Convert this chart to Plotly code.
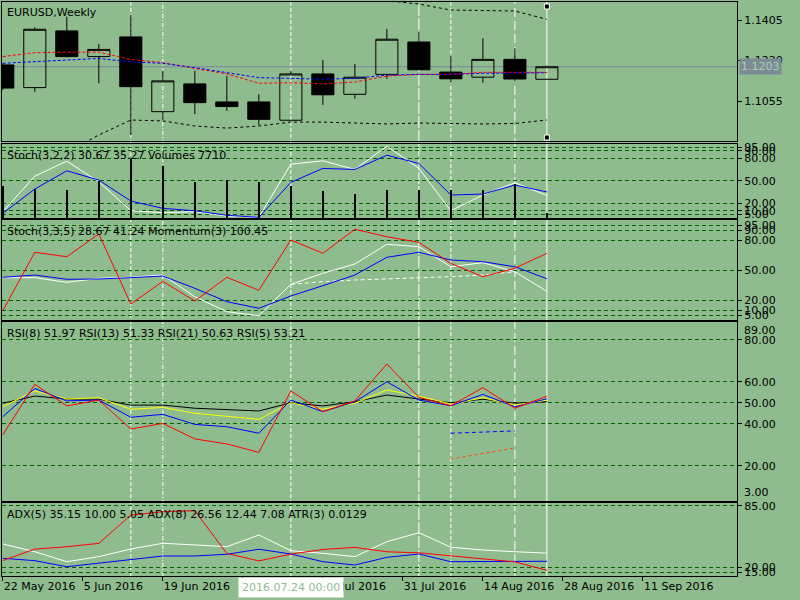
import plotly.graph_objects as go

# ---- data (weekly bars, 22 May 2016 .. 18 Sep 2016) ----
weeks = list(range(18))
tick_pos = [0, 2.5, 5, 7.5, 10, 12.5, 15, 17.5, 20]
tick_text = ["22 May 2016", "5 Jun 2016", "19 Jun 2016", "3 Jul 2016", "17 Jul 2016",
             "31 Jul 2016", "14 Aug 2016", "28 Aug 2016", "11 Sep 2016"]

open_ = [1.1211, 1.1113, 1.1358, 1.1247, 1.1332, 1.1009, 1.1129, 1.1051, 1.1051,
         1.0972, 1.1172, 1.1084, 1.1170, 1.1310, 1.1180, 1.1158, 1.1235, 1.1149]
high = [1.1218, 1.1374, 1.1419, 1.1301, 1.1427, 1.1186, 1.1186, 1.1163, 1.1084,
        1.1186, 1.1232, 1.1215, 1.1366, 1.1353, 1.1250, 1.1326, 1.1283, 1.1209]
low = [1.1103, 1.1095, 1.1244, 1.1132, 1.0908, 1.0973, 1.0999, 1.1013, 1.0951,
       1.0972, 1.1038, 1.1065, 1.1151, 1.1190, 1.1134, 1.1134, 1.1140, 1.1149]
close = [1.1111, 1.1365, 1.1247, 1.1278, 1.1117, 1.1142, 1.1048, 1.1031, 1.0976,
         1.1172, 1.1082, 1.1158, 1.1322, 1.1190, 1.1151, 1.1235, 1.1150, 1.1203]

ma_red = [1.1247, 1.1264, 1.1266, 1.1266, 1.1235, 1.1221, 1.1196, 1.1172, 1.1132,
          1.1134, 1.1129, 1.1137, 1.1163, 1.1170, 1.1170, 1.1179, 1.1179, 1.1179]
ma_blue = [1.1218, 1.1224, 1.1232, 1.1239, 1.1224, 1.1218, 1.1199, 1.1177, 1.1156,
           1.1153, 1.1149, 1.1153, 1.1167, 1.1170, 1.1170, 1.1175, 1.1175, 1.1177]
band_hi = [1.1620, 1.1600, 1.1590, 1.1575, 1.1560, 1.1545, 1.1535, 1.1525, 1.1515,
           1.1510, 1.1505, 1.1497, 1.1489, 1.1474, 1.1448, 1.1446, 1.1444, 1.1408]
band_lo = [1.0805, 1.0815, 1.0835, 1.0908, 1.0973, 1.0969, 1.0947, 1.0938, 1.0947,
           1.0964, 1.0964, 1.0960, 1.0956, 1.0960, 1.0958, 1.0956, 1.0958, 1.0973]

stoch1_main = [8.8, 56.4, 76.4, 48.8, 10.1, 7.5, 8.8, 3.1, 1.3, 72.4, 76.8, 65.3,
               96.4, 66.7, 10.1, 31.1, 47.5, 30.67]
stoch1_sig = [6.7, 39.1, 63.5, 51.1, 23.1, 13.3, 10.1, 4.0, 1.3, 48.0, 66.7, 65.3,
              84.4, 73.3, 31.1, 32.4, 44.4, 35.27]
volumes = [45000, 41300, 40300, 52700, 82600, 73400, 50400, 53700, 50400, 44500,
           37600, 33500, 39000, 39000, 39900, 39900, 48200, 7710]

stoch2_main = [42.3, 42.3, 37.7, 41.7, 42.7, 45.0, 23.3, 8.3, 4.3, 35.7, 46.7, 56.0,
               75.7, 73.3, 53.3, 57.3, 48.3, 28.67]
stoch2_sig = [42.7, 45.0, 40.7, 41.0, 42.3, 44.0, 31.7, 18.3, 11.7, 24.0, 34.3, 45.0,
              62.7, 67.7, 60.0, 58.3, 53.3, 41.24]
stoch2_extra = [None] * 9 + [35.7, 38.3, 40.0, 41.0, 42.3, 43.3, 45.0, 48.3, None]
momentum = [97.61, 100.50, 100.28, 101.41, 97.94, 99.06, 98.09, 99.26, 98.62, 101.11,
            100.45, 101.64, 101.27, 100.99, 99.95, 99.29, 99.71, 100.45]

rsi5 = [34.8, 58.9, 48.6, 51.4, 37.6, 40.3, 32.9, 30.5, 26.5, 55.7, 45.9, 51.0,
        68.6, 52.7, 48.7, 57.3, 47.5, 53.21]
rsi8 = [43.5, 56.9, 51.0, 51.4, 43.2, 44.6, 39.8, 38.7, 35.6, 51.4, 45.9, 50.6,
        60.1, 51.4, 48.7, 54.1, 48.2, 51.97]
rsi13 = [48.2, 55.7, 51.9, 52.5, 47.0, 47.9, 45.1, 43.5, 42.2, 50.1, 47.0, 49.9,
         56.2, 53.3, 49.5, 52.5, 49.0, 51.33]
rsi21 = [49.9, 53.3, 51.9, 51.8, 49.0, 49.0, 47.5, 47.0, 46.2, 50.1, 48.6, 50.6,
         53.8, 51.9, 50.1, 51.8, 49.9, 50.63]
rsi_weeks_extra = [14, 15, 16]
rsi_extra_blue = [35.6, 36.0, 36.7]
rsi_extra_red = [23.3, 26.0, 28.6]

adx5 = [44.7, 36.6, 26.1, 31.4, 39.5, 45.5, 43.7, 41.9, 54.2, 37.7, 34.9, 31.4,
        47.2, 56.6, 41.3, 38.4, 36.6, 35.15]
adx8 = [29.7, 27.2, 20.8, 24.4, 27.9, 32.1, 32.1, 33.9, 39.2, 34.2, 26.1, 22.6,
        30.7, 34.2, 26.1, 26.1, 26.1, 26.56]
atr3 = [0.0158, 0.0192, 0.0199, 0.0209, 0.0293, 0.0303, 0.0306, 0.0179, 0.0157,
        0.0177, 0.0191, 0.0197, 0.0184, 0.0181, 0.0172, 0.0163, 0.0154, 0.0129]

# vertical marker lines on the chart: bar index and dash style
vlines = [(4, "4px,2px"), (5, "4px,2px,1px,2px"), (9, "4px,2px"),
          (13, "12px,2px"), (14, "4px,2px"), (16, "9px,4px"), (17, "solid")]

BG = "#8FBC8F"
GRID = "#006400"
FONT = "DejaVu Sans"
TOP, BOT = 2, 576  # plot area in screen px


def dom(top, bot):
    span = BOT - TOP
    return [(BOT - bot) / span, (BOT - top) / span]


def yax(top, bot, rng, ticks, fmt, xa, grid=True):
    return dict(domain=dom(top, bot), range=rng, side="right", anchor=xa,
                tickvals=ticks, tickformat=fmt, ticks="outside", ticklen=4,
                tickcolor="black", showline=True, linecolor="black", linewidth=1,
                mirror=True, showgrid=grid, gridcolor=GRID, griddash="4px,3px",
                gridwidth=1, zeroline=False, fixedrange=True, automargin=False,
                tickfont=dict(family=FONT, size=11, color="black"))


def overlay(base, rng, xa):
    return dict(overlaying=base, range=rng, visible=False, side="right",
                anchor=xa, fixedrange=True)


x_range = [-0.025, 22.94]


def xax(ya, bottom=False):
    d = dict(domain=[0, 1], range=x_range, anchor=ya, showline=True,
             linecolor="black", linewidth=1, mirror=True, showgrid=False,
             zeroline=False, rangeslider=dict(visible=False), fixedrange=True,
             automargin=False)
    if bottom:
        d.update(tickvals=tick_pos, ticktext=tick_text, ticks="outside", ticklen=4,
                 tickcolor="black", ticklabelposition="outside right",
                 tickfont=dict(family=FONT, size=11, color="black"))
    else:
        d.update(showticklabels=False, ticks="", matches="x")
    return d


def line(x, y, color, xa, ya, dash="solid"):
    return go.Scatter(x=x, y=y, mode="lines", xaxis=xa, yaxis=ya,
                      line=dict(color=color, width=1, dash=dash),
                      hoverinfo="skip", showlegend=False, connectgaps=False)


fig = go.Figure()

# main price panel
fig.add_trace(line(weeks, band_hi, "black", "x2", "y", "3px,3px"))
fig.add_trace(line(weeks, band_lo, "black", "x2", "y", "3px,3px"))
fig.add_trace(go.Candlestick(
    x=weeks, open=open_, high=high, low=low, close=close, xaxis="x2", yaxis="y",
    increasing=dict(line=dict(color="black", width=1), fillcolor="rgba(0,0,0,0)"),
    decreasing=dict(line=dict(color="black", width=1), fillcolor="black"),
    whiskerwidth=0, hoverinfo="skip", showlegend=False))
fig.add_trace(line(weeks, ma_red, "red", "x2", "y", "3px,2px"))
fig.add_trace(line(weeks, ma_blue, "blue", "x2", "y", "3px,2px"))

# Stoch(3,2,2) + Volumes
fig.add_trace(go.Bar(x=weeks, y=volumes, xaxis="x3", yaxis="y3", width=0.04,
                     marker=dict(color="black", line=dict(width=0)),
                     hoverinfo="skip", showlegend=False))
fig.add_trace(line(weeks, stoch1_main, "white", "x3", "y2"))
fig.add_trace(line(weeks, stoch1_sig, "blue", "x3", "y2"))

# Stoch(3,3,5) + Momentum(3)
fig.add_trace(line(weeks, stoch2_extra, "white", "x4", "y4", "4px,3px"))
fig.add_trace(line(weeks, stoch2_main, "white", "x4", "y4"))
fig.add_trace(line(weeks, stoch2_sig, "blue", "x4", "y4"))
fig.add_trace(line(weeks, momentum, "red", "x4", "y5"))

# RSI
fig.add_trace(line(weeks, rsi21, "black", "x5", "y6"))
fig.add_trace(line(weeks, rsi13, "yellow", "x5", "y6"))
fig.add_trace(line(weeks, rsi8, "blue", "x5", "y6"))
fig.add_trace(line(weeks, rsi5, "red", "x5", "y6"))
fig.add_trace(line(rsi_weeks_extra, rsi_extra_blue, "blue", "x5", "y6", "4px,3px"))
fig.add_trace(line(rsi_weeks_extra, rsi_extra_red, "#FF4500", "x5", "y6", "3px,3px"))

# ADX + ATR
fig.add_trace(line(weeks, adx5, "white", "x", "y7"))
fig.add_trace(line(weeks, adx8, "blue", "x", "y7"))
fig.add_trace(line(weeks, atr3, "red", "x", "y8"))

shapes = [dict(type="line", xref="x2 domain", yref="y", x0=0, x1=1,
               y0=close[-1], y1=close[-1], line=dict(color="#778899", width=1),
               layer="below")]
for wk, dash in vlines:
    shapes.append(dict(type="line", xref="x", yref="paper", x0=wk, x1=wk, y0=0, y1=1,
                       line=dict(color="white", width=1, dash=dash), layer="below"))
main_dom = dom(2, 141)
for anchor, y0, y1 in [(main_dom[1], -7, -2), (main_dom[0], 1, 6)]:
    shapes.append(dict(type="rect", xref="x", xsizemode="pixel", xanchor=weeks[-1],
                       x0=-2.5, x1=2.5, yref="paper", ysizemode="pixel",
                       yanchor=anchor, y0=y0, y1=y1, fillcolor="black",
                       line=dict(color="white", width=1)))

txt = dict(family=FONT, size=11, color="black")


def label(text, top, shift=-3):
    return dict(text=text, xref="paper", yref="paper", x=0, y=dom(top, top + 1)[1],
                xanchor="left", yanchor="top", xshift=3, yshift=shift, showarrow=False,
                font=txt)


annotations = [
    label("EURUSD,Weekly", 2, -2),
    label("Stoch(3,2,2) 30.67 35.27 Volumes 7710", 143.5),
    label("Stoch(3,3,5) 28.67 41.24 Momentum(3) 100.45", 220),
    label("RSI(8) 51.97 RSI(13) 51.33 RSI(21) 50.63 RSI(5) 53.21", 321.7),
    label("ADX(5) 35.15 10.00 5.05 ADX(8) 26.56 12.44 7.08 ATR(3) 0.0129", 503.3),
    dict(text="89.00", xref="paper", yref="paper", x=1, y=dom(321.7, 501)[1],
         xanchor="left", yanchor="top", xshift=5, showarrow=False, font=txt),
    dict(text="3.00", xref="paper", yref="paper", x=1, y=dom(321.7, 501)[0],
         xanchor="left", yanchor="bottom", xshift=5, showarrow=False, font=txt),
    dict(text="1.1203", xref="paper", yref="y", x=1, y=close[-1], xanchor="left",
         xshift=2, showarrow=False, bgcolor="#7d8b99", borderpad=1,
         font=dict(family=FONT, size=11, color="#A9CFA9")),
    dict(text="2016.07.24 00:00", xref="x", yref="paper", x=9, y=0, yanchor="top",
         yshift=-1, showarrow=False, bgcolor="white", borderpad=3,
         font=dict(family=FONT, size=11, color="#8FBC8F")),
]

fig.update_layout(
    width=800, height=600,
    margin=dict(l=2, r=63, t=2, b=24),
    paper_bgcolor=BG, plot_bgcolor="rgba(0,0,0,0)",
    showlegend=False, boxgap=0.31, boxgroupgap=0, bargap=0,
    font=txt,
    xaxis=xax("y7", bottom=True),
    xaxis2=xax("y"), xaxis3=xax("y2"), xaxis4=xax("y4"), xaxis5=xax("y6"),
    yaxis=yax(2, 141, [1.08823, 1.14828], [1.1055, 1.1230, 1.1405], ".4f", "x2", grid=False),
    yaxis2=yax(143.5, 218.3, [0, 100], [95, 90, 80, 50, 20, 10, 5], ".2f", "x3"),
    yaxis3=overlay("y2", [0, 103000], "x3"),
    yaxis4=yax(220, 319.5, [0.5, 100], [95, 90, 80, 50, 20, 10, 5], ".2f", "x4"),
    yaxis5=overlay("y4", [97.173, 102.098], "x4"),
    yaxis6=yax(321.7, 501, [3.33, 88.71], [80, 60, 50, 40, 20], ".2f", "x5"),
    yaxis7=yax(503.3, 576, [11.05, 87.58], [85, 20, 15], ".2f", "x"),
    yaxis8=overlay("y7", [0.01121, 0.03280], "x"),
    shapes=shapes, annotations=annotations,
)

# the page body has a default 8px margin; drop it so the figure sits at the window corner
fig.write_html("out.html", config={"displayModeBar": False},
               post_script="document.body.style.margin='0';")
